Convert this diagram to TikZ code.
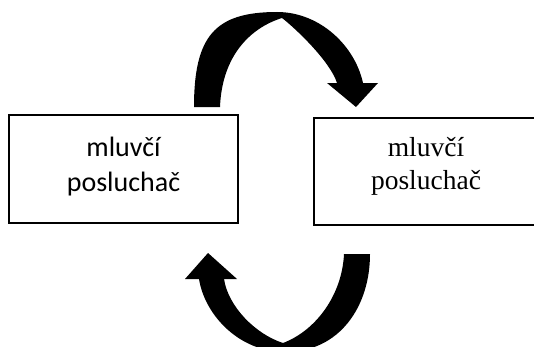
\documentclass[tikz,border=0pt]{standalone}
\usepackage{fontspec}
\usepackage{tikz}
\usetikzlibrary{positioning}
\newfontfamily\calibrifont{Carlito}
\newfontfamily\timesfont{Liberation Serif}
\tikzstyle{box} = [draw,line width=2.4pt,rectangle,inner sep=0pt]
\tikzstyle{boxtext} = [align=center,inner sep=0pt]
\tikzstyle{bigarrow} = [fill=black,draw=none]

\begin{document}
\begin{tikzpicture}[x=1pt,y=1pt]
    \useasboundingbox (0,0) rectangle (534,346);
    \node[box,minimum width=229pt,minimum height=108pt] (speakerA) at (123.5,177) {};
    \node[box,minimum width=224pt,minimum height=107pt] (speakerB) at (426,174.5) {};
    \node[boxtext,font=\calibrifont\fontsize{28}{35}\selectfont] (speakerAtext)
        at ([yshift=2.5pt]speakerA.center) {mluvčí\\posluchač};
    \node[boxtext,font=\timesfont\fontsize{27.5}{33}\selectfont] (speakerBtext)
        at ([yshift=5pt]speakerB.center) {mluvčí\\posluchač};
    % upper arrow, from A to B
    \path[bigarrow] (194,239) -- (220,239)
        .. controls (222,290) and (250,318) .. (282,328)
        .. controls (295,318) and (330,285) .. (337,263)
        -- (327,263) -- (356,239) -- (378,263) -- (363,263)
        .. controls (355,300) and (320,334) .. (277,334)
        .. controls (215,334) and (194,310) .. (194,239) -- cycle;
    % lower arrow, from B back to A
    \path[bigarrow] (370,92) -- (344,92)
        .. controls (342,50) and (315,15) .. (283,3)
        .. controls (255,12) and (228,40) .. (224,67)
        -- (237,67) -- (208,93) -- (185,67) -- (199,67)
        .. controls (205,30) and (240,-6) .. (285,-6)
        .. controls (340,-6) and (370,40) .. (370,92) -- cycle;
\end{tikzpicture}
\end{document}
